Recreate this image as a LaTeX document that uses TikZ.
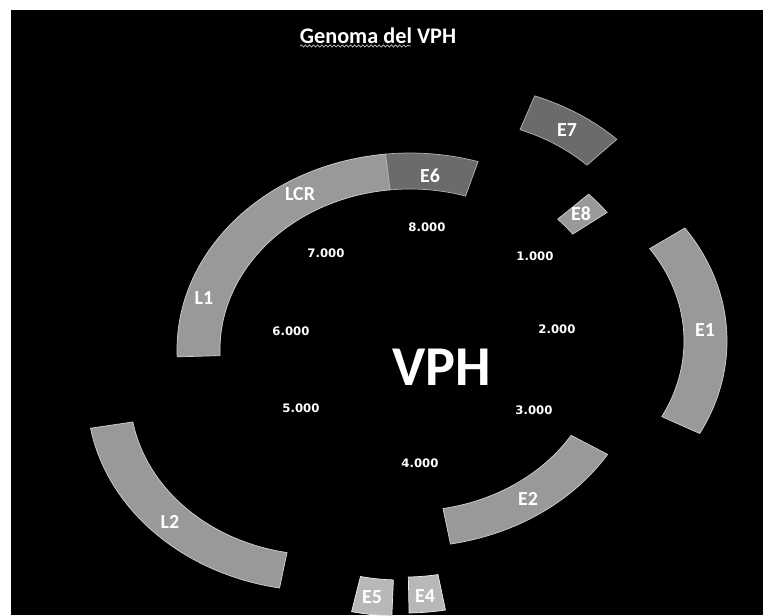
\documentclass[tikz,border=0pt]{standalone}
\usepackage{fontspec}
\setmainfont{Carlito}
\newfontfamily\posfont{DejaVu Sans}
\usepackage{tikz}
\usetikzlibrary{calc}
\usetikzlibrary{decorations.pathmorphing}

% one slice of the ring: [style] centre, start angle, end angle
\newcommand{\genepart}[4][seg]{%
  \path[#1] ($(#2)+(#3:233 and 197)$) arc[start angle=#3, end angle=#4, x radius=233, y radius=197]
    -- ($(#2)+(#4:190 and 161)$) arc[start angle=#4, end angle=#3, x radius=190, y radius=161] -- cycle;}

\begin{document}
\begin{tikzpicture}[x=0.03cm, y=-0.03cm,
    seg/.style={fill=black!40, draw=black!18, line width=0.6pt},
    darkseg/.style={fill=black!58, draw=black!30, line width=0.6pt},
    lightseg/.style={fill=black!28, draw=black!8, line width=0.6pt},
    genelabel/.style={text=white, font=\fontsize{17}{17}\selectfont\bfseries, inner sep=0pt},
    posnlabel/.style={text=white, font=\posfont\fontsize{10}{10}\selectfont\bfseries, inner sep=0pt}]
        \useasboundingbox (0,0) rectangle (763,615);
        \fill[white] (0,0) rectangle (763,615);
        \fill[black] (11,10) rectangle (763,615);

        \node[text=white, font=\fontsize{19}{19}\selectfont\bfseries, inner sep=0pt] (title) at (378,36) {Genoma del VPH};
        \draw[black!25, line width=0.6pt, decorate, decoration={snake, amplitude=0.9pt, segment length=3.5pt}] (300,46) -- (411,46);

        % ring
        \genepart{410,350}{178}{264}
        \genepart[darkseg]{410,350}{264}{287}
        \genepart{410,350}{32}{80}

        % pulled out slices
        \genepart[darkseg]{455,281}{-70}{-46}
        \genepart{421,331}{-44}{-37}
        \genepart{494,341}{-35}{28}
        \genepart[lightseg]{405,416}{80}{89}
        \genepart[lightseg]{400,419}{92}{102}
        \genepart{320,394}{100}{170}

        \node[genelabel] (lcr) at (300,194) {LCR};
        \node[genelabel] (lone) at (204,298) {L1};
        \node[genelabel] (esix) at (430,176) {E6};
        \node[genelabel] (eseven) at (567,130) {E7};
        \node[genelabel] (eeight) at (581,214) {E8};
        \node[genelabel] (eone) at (705,330) {E1};
        \node[genelabel] (etwo) at (528,499) {E2};
        \node[genelabel] (efour) at (425,596) {E4};
        \node[genelabel] (efive) at (372,597) {E5};
        \node[genelabel] (ltwo) at (170,522) {L2};

        \node[posnlabel] (p8) at (427,227) {8.000};
        \node[posnlabel] (p1) at (535,256) {1.000};
        \node[posnlabel] (p2) at (557,329) {2.000};
        \node[posnlabel] (p3) at (534,410) {3.000};
        \node[posnlabel] (p4) at (420,463) {4.000};
        \node[posnlabel] (p5) at (301,408) {5.000};
        \node[posnlabel] (p6) at (291,331) {6.000};
        \node[posnlabel] (p7) at (326,253) {7.000};

        \node[text=white, font=\fontsize{48}{48}\selectfont\bfseries, inner sep=0pt] (vph) at (442,367) {VPH};
      \end{tikzpicture}
\end{document}
